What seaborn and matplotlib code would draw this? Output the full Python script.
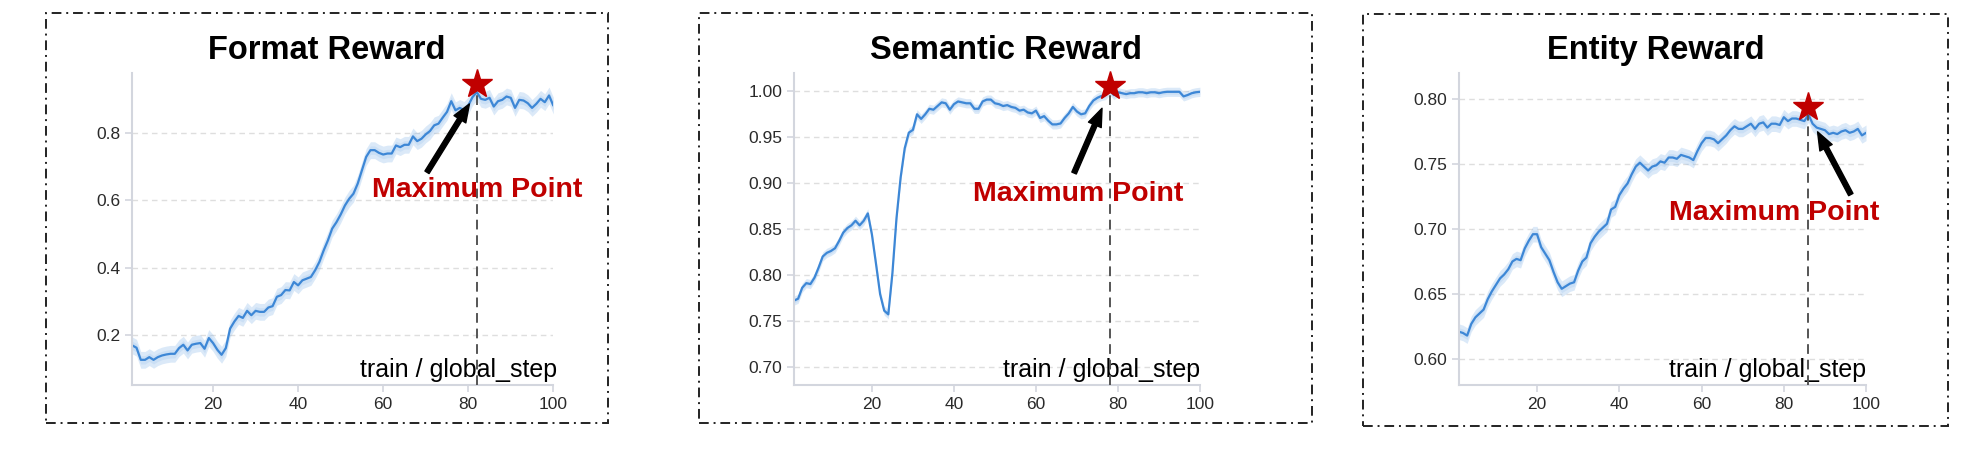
import numpy as np
import pandas as pd
import seaborn as sns
import matplotlib.pyplot as plt
from matplotlib.patches import Rectangle

# values (one point per global step)
steps = list(range(1, 101))

format_reward = [
    0.168, 0.161, 0.125, 0.125, 0.133, 0.125, 0.133, 0.138, 0.141, 0.143,
    0.143, 0.160, 0.170, 0.153, 0.170, 0.173, 0.175, 0.158, 0.190, 0.175,
    0.155, 0.140, 0.160, 0.218, 0.239, 0.256, 0.250, 0.271, 0.258, 0.271,
    0.268, 0.268, 0.281, 0.285, 0.313, 0.318, 0.333, 0.332, 0.357, 0.347,
    0.362, 0.367, 0.372, 0.392, 0.417, 0.451, 0.481, 0.516, 0.535, 0.558,
    0.585, 0.605, 0.620, 0.650, 0.690, 0.730, 0.750, 0.750, 0.742, 0.737,
    0.740, 0.740, 0.764, 0.759, 0.766, 0.766, 0.791, 0.777, 0.784, 0.797,
    0.807, 0.824, 0.829, 0.847, 0.864, 0.896, 0.869, 0.876, 0.870, 0.883,
    0.908, 0.923, 0.903, 0.900, 0.906, 0.880, 0.896, 0.900, 0.910, 0.906,
    0.876, 0.900, 0.898, 0.890, 0.876, 0.888, 0.903, 0.893, 0.913, 0.883,
]

semantic_reward = [
    0.772, 0.774, 0.786, 0.791, 0.790, 0.797, 0.808, 0.820, 0.824, 0.826,
    0.829, 0.837, 0.846, 0.851, 0.854, 0.859, 0.854, 0.859, 0.867, 0.844,
    0.812, 0.779, 0.761, 0.757, 0.802, 0.862, 0.906, 0.938, 0.955, 0.958,
    0.975, 0.970, 0.975, 0.981, 0.980, 0.984, 0.988, 0.987, 0.980, 0.986,
    0.989, 0.988, 0.987, 0.987, 0.981, 0.981, 0.989, 0.991, 0.991, 0.987,
    0.986, 0.984, 0.985, 0.983, 0.982, 0.979, 0.980, 0.977, 0.976, 0.979,
    0.971, 0.973, 0.968, 0.964, 0.964, 0.965, 0.971, 0.976, 0.983, 0.978,
    0.975, 0.976, 0.984, 0.990, 0.993, 0.995, 0.996, 1.001, 0.996, 0.999,
    0.998, 0.997, 0.998, 0.998, 0.999, 0.999, 0.998, 0.999, 0.999, 0.998,
    0.999, 0.9995, 0.9995, 0.9995, 0.9995, 0.9945, 0.996, 0.998, 0.999, 0.9995,
]

entity_reward = [
    0.621, 0.620, 0.618, 0.627, 0.632, 0.635, 0.638, 0.646, 0.652, 0.657,
    0.662, 0.665, 0.669, 0.675, 0.677, 0.676, 0.685, 0.691, 0.696, 0.696,
    0.686, 0.681, 0.676, 0.667, 0.659, 0.654, 0.656, 0.658, 0.659, 0.668,
    0.675, 0.678, 0.689, 0.694, 0.698, 0.701, 0.704, 0.715, 0.717, 0.726,
    0.731, 0.735, 0.742, 0.748, 0.751, 0.748, 0.745, 0.748, 0.749, 0.752,
    0.751, 0.755, 0.755, 0.754, 0.757, 0.756, 0.755, 0.753, 0.760, 0.766,
    0.770, 0.770, 0.769, 0.766, 0.769, 0.772, 0.776, 0.779, 0.777, 0.777,
    0.779, 0.781, 0.777, 0.781, 0.782, 0.778, 0.781, 0.781, 0.780, 0.786,
    0.783, 0.785, 0.785, 0.784, 0.783, 0.788, 0.781, 0.778, 0.777, 0.776,
    0.773, 0.774, 0.773, 0.775, 0.776, 0.774, 0.775, 0.777, 0.772, 0.774,
]

titles = ['Format Reward', 'Semantic Reward', 'Entity Reward']
series = [format_reward, semantic_reward, entity_reward]
xticks = [20, 40, 60, 80, 100]
yticks = [
    [0.2, 0.4, 0.6, 0.8],
    [0.70, 0.75, 0.80, 0.85, 0.90, 0.95, 1.00],
    [0.60, 0.65, 0.70, 0.75, 0.80],
]
ytick_labels = [
    ['0.2', '0.4', '0.6', '0.8'],
    ['0.70', '0.75', '0.80', '0.85', '0.90', '0.95', '1.00'],
    ['0.60', '0.65', '0.70', '0.75', '0.80'],
]
ylims = [(0.05, 0.98), (0.68, 1.02), (0.58, 0.82)]
spreads = [0.025, 0.005, 0.006]

# layout (figure fractions) + annotation placement per panel
ax_rects = [
    [0.0666, 0.1826, 0.2120, 0.6624],
    [0.3998, 0.1826, 0.2044, 0.6624],
    [0.7346, 0.1826, 0.2050, 0.6624],
]
box_rects = [
    (0.0232, 0.1019, 0.3061, 0.973),
    (0.3520, 0.1019, 0.6606, 0.973),
    (0.6863, 0.0962, 0.9809, 0.971),
]
label_pos = [(57.3, 0.610), (44.7, 0.880), (52.1, 0.7067)]
arrow_tail = [(70.3, 0.684), (69.3, 0.911), (96.3, 0.7265)]
arrow_shrink = [10, 14, 14]

line_c = '#3d87d6'
band_c = '#7fb2e8'
red = '#c00000'
spine_c = '#d3d6de'

sns.set_style('white')
plt.rcParams['font.family'] = ['Liberation Sans', 'DejaVu Sans']

fig = plt.figure(figsize=(19.86, 4.71), dpi=100)

for i in range(3):
    ax = fig.add_axes(ax_rects[i])
    vals = np.array(series[i])
    s = spreads[i]
    df = pd.DataFrame({'step': steps, 'reward': vals})

    ax.fill_between(steps, vals - s, vals + s, color=band_c, alpha=0.28, lw=0)
    ax.fill_between(steps, vals - s * 0.5, vals + s * 0.5, color=band_c, alpha=0.18, lw=0)
    sns.lineplot(data=df, x='step', y='reward', ax=ax, color=line_c, lw=1.6)

    ax.set_xlim(1, 100)
    ax.set_ylim(*ylims[i])
    ax.set_xticks(xticks)
    ax.set_yticks(yticks[i])
    ax.set_yticklabels(ytick_labels[i])
    ax.set_xlabel('')
    ax.set_ylabel('')
    ax.tick_params(axis='both', labelsize=12.5, labelcolor='#2a2a2a',
                   color=spine_c, length=5, width=1.2, left=True, bottom=True)
    ax.grid(axis='y', color='#dedede', ls=(0, (4, 3)), lw=1)
    ax.set_axisbelow(True)
    for side in ['top', 'right']:
        ax.spines[side].set_visible(False)
    for side in ['left', 'bottom']:
        ax.spines[side].set_color(spine_c)
        ax.spines[side].set_linewidth(1.5)

    # maximum point
    k = int(np.argmax(vals))
    mx, my = steps[k], vals[k]
    ax.vlines(mx, ylims[i][0], my, colors='#555555', linestyles=(0, (5, 3)), lw=1.4, zorder=4)
    ax.plot([mx], [my + s], marker='*', ms=22, color=red, mec=red, zorder=6, clip_on=False)
    ax.annotate('', xy=(mx, my), xytext=arrow_tail[i],
                arrowprops=dict(arrowstyle='simple,head_length=1.3,head_width=1.0,tail_width=0.35',
                                color='black', mutation_scale=10,
                                shrinkA=0, shrinkB=arrow_shrink[i]),
                zorder=5)
    ax.text(label_pos[i][0], label_pos[i][1], 'Maximum Point', color=red,
            fontsize=20.5, fontweight='bold', ha='left', va='baseline', zorder=5)

    ax.text(1.01 if i == 0 else 1.0, 0.01, 'train / global_step', transform=ax.transAxes,
            ha='right', va='bottom', fontsize=18, color='black', zorder=3)

    # dash-dot frame and title centered on it
    x0, y0, x1, y1 = box_rects[i]
    fig.patches.append(Rectangle((x0, y0), x1 - x0, y1 - y0, transform=fig.transFigure,
                                 fill=False, ec='#222222', lw=1.4,
                                 ls=(0, (5, 2.5, 1, 2.5))))
    fig.text((x0 + x1) / 2, 0.8747, titles[i], ha='center', va='baseline',
             fontsize=23.5, fontweight='bold', color='black')

fig.savefig('out.png', dpi=100)
